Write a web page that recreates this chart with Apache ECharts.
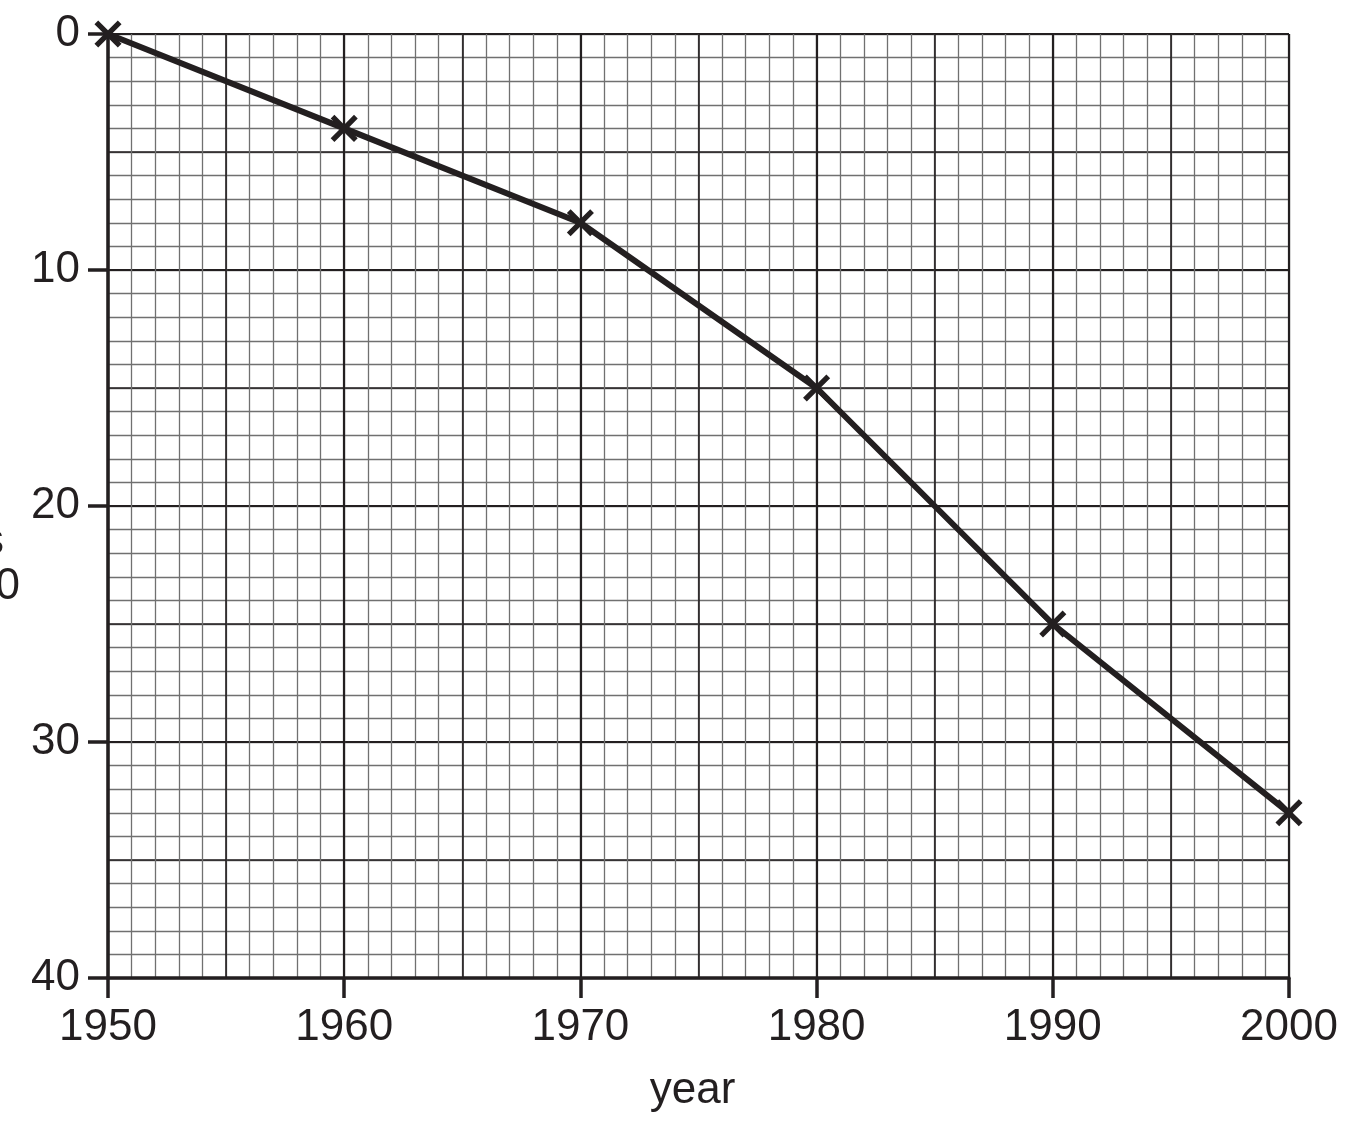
<!DOCTYPE html>
<html><head><meta charset="utf-8">
<script src="https://cdn.jsdelivr.net/npm/echarts@6/dist/echarts.min.js"></script>
<style>html,body{margin:0;padding:0;background:#fff}#c{width:1350px;height:1121px}</style>
</head><body><div id="c"></div>
<script>
const years = [1950, 1960, 1970, 1980, 1990, 2000];
const values = [0, 4, 8, 15, 25, 33];
const xTicks = ['1950','1960','1970','1980','1990','2000'];
const yTicks = ['0','10','20','30','40'];

const INK = '#231f20';
const FONT = '"Liberation Sans", Arial, sans-serif';
const grid = {left:108, right:61, top:34, bottom:143, containLabel:false, outerBoundsMode:'none'};
const hidden = {axisLine:{show:false}, axisTick:{show:false}, axisLabel:{show:false}};

const chart = echarts.init(document.getElementById('c'), null, {renderer:'canvas'});
chart.setOption({
  backgroundColor:'#fff',
  animation:false,
  grid: grid,
  xAxis: [
    Object.assign({type:'value', position:'bottom', min:1950, max:2000, interval:1, splitLine:{show:true, lineStyle:{color:'#707070', width:1.3}}}, hidden),
    Object.assign({type:'value', position:'bottom', min:1950, max:2000, interval:5, splitLine:{show:true, lineStyle:{color:INK, width:1.6}}}, hidden),
    {type:'value', position:'bottom', min:1950, max:2000, interval:10,
     splitLine:{show:true, lineStyle:{color:INK, width:2.2}},
     axisLine:{show:true, onZero:false, lineStyle:{color:INK, width:3.5}},
     axisTick:{show:true, length:20, lineStyle:{color:INK, width:3.5}},
     axisLabel:{show:true, margin:28, color:INK, fontSize:44, fontFamily:FONT,
       formatter: v => xTicks[years.indexOf(v)] ?? ''},
     name:'year', nameLocation:'middle', nameGap:91,
     nameTextStyle:{color:INK, fontSize:44, fontFamily:FONT, padding:[0,12,0,0]}}
  ],
  yAxis: [
    Object.assign({type:'value', position:'left', inverse:true, min:0, max:40, interval:1, splitLine:{show:true, lineStyle:{color:'#707070', width:1.3}}}, hidden),
    Object.assign({type:'value', position:'left', inverse:true, min:0, max:40, interval:5, splitLine:{show:true, lineStyle:{color:INK, width:1.6}}}, hidden),
    {type:'value', position:'left', inverse:true, min:0, max:40, interval:10,
     splitLine:{show:true, lineStyle:{color:INK, width:2.2}},
     axisLine:{show:true, onZero:false, lineStyle:{color:INK, width:3.5}},
     axisTick:{show:true, length:20, lineStyle:{color:INK, width:3.5}},
     axisLabel:{show:true, margin:28, color:INK, fontSize:44, fontFamily:FONT,
       formatter: v => yTicks[v/10] ?? ''}}
  ],
  graphic: [
    {type:'text', right:1346, top:520, style:{text:'loss / metres', fontSize:44, fontFamily:FONT, fill:INK, textAlign:'right'}},
    {type:'text', right:1330, top:565, style:{text:'since 1950', fontSize:44, fontFamily:FONT, fill:INK, textAlign:'right'}}
  ],
  series: [{
    type:'line', xAxisIndex:2, yAxisIndex:2,
    data: years.map((y,i)=>[y, values[i]]),
    lineStyle:{color:INK, width:6},
    symbol:'path://M-1,-0.16L-0.16,-0.16L-0.16,-1L0.16,-1L0.16,-0.16L1,-0.16L1,0.16L0.16,0.16L0.16,1L-0.16,1L-0.16,0.16L-1,0.16Z',
    symbolRotate:45, symbolSize:33, showSymbol:true,
    itemStyle:{color:INK}, z:10, clip:false
  }]
});
</script></body></html>
